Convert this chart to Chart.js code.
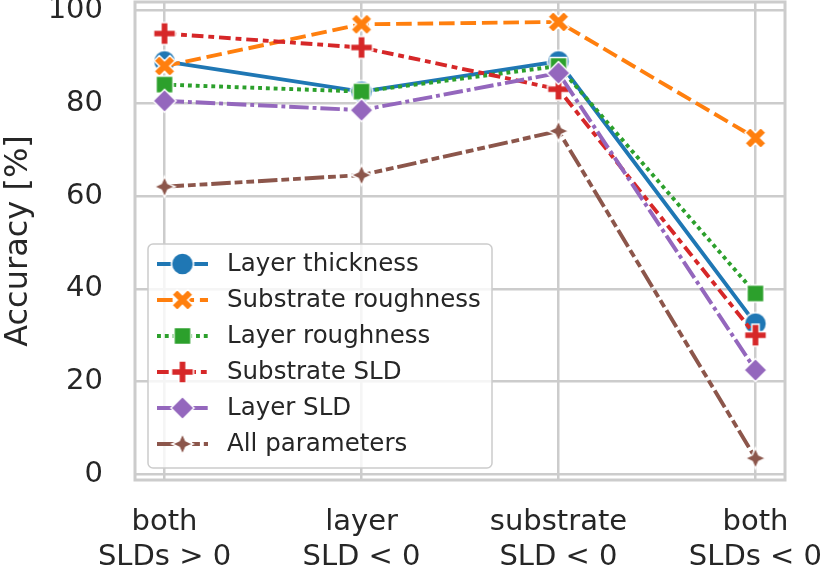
<!DOCTYPE html>
<html>
<head>
<meta charset="utf-8">
<script src="https://cdn.jsdelivr.net/npm/chart.js@4.4.0/dist/chart.umd.min.js"></script>
<style>
  html, body { margin: 0; padding: 0; background: #fff; }
  #wrap { width: 825px; height: 569px; }
</style>
</head>
<body>
<div id="wrap"><canvas id="accChart" width="825" height="569"></canvas></div>
<script>
// categories along the x axis (two-line labels)
const categories = [
    ['both', 'SLDs > 0'],
    ['layer', 'SLD < 0'],
    ['substrate', 'SLD < 0'],
    ['both', 'SLDs < 0']
];
const yTicks = [0, 20, 40, 60, 80, 100];

// accuracy [%] per parameter
const layerThickness     = [89.0, 82.5, 89.0, 32.5];
const substrateRoughness = [88.0, 97.0, 97.5, 72.5];
const layerRoughness     = [84.0, 82.5, 88.0, 39.0];
const substrateSLD       = [95.0, 92.0, 83.0, 30.0];
const layerSLD           = [80.5, 78.5, 86.5, 22.5];
const allParameters      = [62.0, 64.5, 74.0, 3.5];

const seriesNames = ['Layer thickness', 'Substrate roughness', 'Layer roughness',
                     'Substrate SLD', 'Layer SLD', 'All parameters'];

const textColor = '#262626';
const gridColor = '#cccccc';
const LW = 3.9;

function plusPath(g, L, t) {
    const p = [[-t,-L],[t,-L],[t,-t],[L,-t],[L,t],[t,t],[t,L],[-t,L],[-t,t],[-L,t],[-L,-t],[-t,-t]];
    g.moveTo(p[0][0], p[0][1]);
    for (let i = 1; i < p.length; i++) g.lineTo(p[i][0], p[i][1]);
    g.closePath();
}

// marker images with a white edge, like seaborn's default markers
function makeMarker(shape, color) {
    const size = 30;
    const c = document.createElement('canvas');
    c.width = size; c.height = size;
    const g = c.getContext('2d');
    g.translate(size / 2, size / 2);
    g.beginPath();
    if (shape === 'circle') {
        g.arc(0, 0, 11, 0, Math.PI * 2);
    } else if (shape === 'x') {
        g.rotate(Math.PI / 4);
        plusPath(g, 11.2, 3.7);
    } else if (shape === 'plus') {
        plusPath(g, 11, 3.6);
    } else if (shape === 'square') {
        g.rect(-8.5, -8.5, 17, 17);
    } else if (shape === 'diamond') {
        g.moveTo(0, -11.5); g.lineTo(11.5, 0); g.lineTo(0, 11.5); g.lineTo(-11.5, 0); g.closePath();
    } else if (shape === 'star') {
        const ro = 10.5, ri = 4.6;
        for (let i = 0; i < 8; i++) {
            const a = -Math.PI / 2 + i * Math.PI / 4;
            const r = i % 2 === 0 ? ro : ri;
            if (i === 0) g.moveTo(r * Math.cos(a), r * Math.sin(a));
            else g.lineTo(r * Math.cos(a), r * Math.sin(a));
        }
        g.closePath();
    }
    g.fillStyle = color;
    g.fill();
    g.strokeStyle = '#ffffff';
    g.lineWidth = 1.5;
    g.stroke();
    return c;
}

const styles = [
    { color: '#1f77b4', dash: [], marker: 'circle' },
    { color: '#ff7f0e', dash: [4 * LW, 1.5 * LW], marker: 'x' },
    { color: '#2ca02c', dash: [1 * LW, 1 * LW], marker: 'square' },
    { color: '#d62728', dash: [3 * LW, 1.25 * LW, 1.5 * LW, 1.25 * LW], marker: 'plus' },
    { color: '#9467bd', dash: [5 * LW, 1 * LW, 1 * LW, 1 * LW], marker: 'diamond' },
    { color: '#8c564b', dash: [5 * LW, 1 * LW, 2 * LW, 1 * LW, 2 * LW, 1 * LW], marker: 'star' }
];
styles.forEach(s => { s.img = makeMarker(s.marker, s.color); });

const seriesValues = [layerThickness, substrateRoughness, layerRoughness,
                      substrateSLD, layerSLD, allParameters];

const datasets = seriesValues.map((vals, i) => ({
    label: seriesNames[i],
    data: vals.map((v, j) => ({ x: j, y: v })),
    borderColor: styles[i].color,
    backgroundColor: styles[i].color,
    borderWidth: LW,
    borderDash: styles[i].dash,
    pointStyle: styles[i].img,
    pointRadius: 11,
    tension: 0,
    fill: false,
    clip: false,
    order: seriesValues.length - i
}));

// gray box around the plotting area
const framePlugin = {
    id: 'frame',
    beforeDatasetsDraw(chart) {
        const a = chart.chartArea;
        const g = chart.ctx;
        g.save();
        g.strokeStyle = gridColor;
        g.lineWidth = 3;
        g.strokeRect(a.left, a.top, a.right - a.left, a.bottom - a.top);
        g.restore();
    }
};

// legend in the lower left corner, line + marker samples
const legendPlugin = {
    id: 'innerLegend',
    afterDatasetsDraw(chart) {
        const a = chart.chartArea;
        const g = chart.ctx;
        const bx = a.left + 13, by = a.top + 242, bw = 344, bh = 224, r = 5;
        g.save();
        g.beginPath();
        g.moveTo(bx + r, by);
        g.arcTo(bx + bw, by, bx + bw, by + bh, r);
        g.arcTo(bx + bw, by + bh, bx, by + bh, r);
        g.arcTo(bx, by + bh, bx, by, r);
        g.arcTo(bx, by, bx + bw, by, r);
        g.closePath();
        g.fillStyle = 'rgba(255,255,255,0.8)';
        g.fill();
        g.strokeStyle = gridColor;
        g.lineWidth = 1.5;
        g.stroke();

        g.font = '24.5px "DejaVu Sans"';
        g.textBaseline = 'middle';
        g.textAlign = 'left';
        seriesNames.forEach((name, i) => {
            const cy = by + 20 + i * 36;
            const x0 = bx + 9, x1 = bx + 60;
            g.beginPath();
            g.setLineDash(styles[i].dash);
            g.strokeStyle = styles[i].color;
            g.lineWidth = LW;
            g.moveTo(x0, cy);
            g.lineTo(x1, cy);
            g.stroke();
            g.setLineDash([]);
            const img = styles[i].img;
            g.drawImage(img, (x0 + x1) / 2 - img.width / 2, cy - img.height / 2);
            g.fillStyle = textColor;
            g.fillText(name, bx + 79, cy + 1);
        });
        g.restore();
    }
};

function noPadding(scale) {
    scale.paddingLeft = 0;
    scale.paddingRight = 0;
    scale.paddingTop = 0;
    scale.paddingBottom = 0;
}

const ctx = document.getElementById('accChart').getContext('2d');
const chart = new Chart(ctx, {
    type: 'line',
    data: { datasets: datasets },
    options: {
        responsive: false,
        animation: false,
        layout: { autoPadding: false, padding: { left: 0, right: 40, top: 2, bottom: 0 } },
        plugins: {
            legend: { display: false },
            tooltip: { enabled: false }
        },
        scales: {
            x: {
                type: 'linear',
                min: -0.15,
                max: 3.15,
                afterBuildTicks: scale => { scale.ticks = categories.map((c, i) => ({ value: i })); },
                afterFit: scale => { scale.height = 89; noPadding(scale); },
                grid: { color: gridColor, lineWidth: 2.5, drawTicks: false },
                border: { display: false },
                ticks: {
                    color: textColor,
                    font: { family: 'DejaVu Sans', size: 29, lineHeight: 1.2 },
                    padding: 25,
                    maxRotation: 0,
                    autoSkip: false,
                    callback: value => categories[value]
                }
            },
            y: {
                type: 'linear',
                min: -1.2,
                max: 101.8,
                afterBuildTicks: scale => { scale.ticks = yTicks.map(v => ({ value: v })); },
                afterFit: scale => { scale.width = 135; noPadding(scale); },
                grid: { color: gridColor, lineWidth: 2.5, drawTicks: false },
                border: { display: false },
                ticks: {
                    color: textColor,
                    font: { family: 'DejaVu Sans', size: 29 },
                    padding: 32
                },
                title: {
                    display: true,
                    text: 'Accuracy [%]',
                    color: textColor,
                    font: { family: 'DejaVu Sans', size: 32, lineHeight: 1.15 },
                    padding: 0
                }
            }
        }
    },
    plugins: [framePlugin, legendPlugin]
});
</script>
</body>
</html>
